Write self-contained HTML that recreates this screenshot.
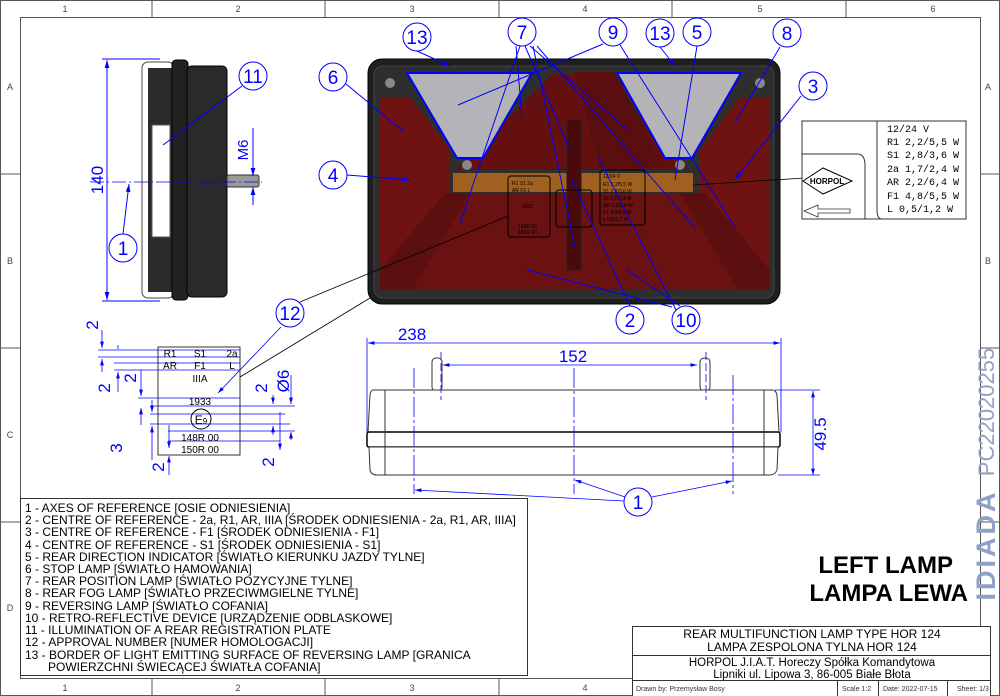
<!DOCTYPE html>
<html><head><meta charset="utf-8"><style>
html,body{margin:0;padding:0;background:#fff}
svg{display:block;font-family:"Liberation Sans",sans-serif}
</style></head><body>
<svg width="1000" height="696" viewBox="0 0 1000 696" xmlns="http://www.w3.org/2000/svg">
<defs>
<marker id="a" viewBox="0 0 10 10" refX="10" refY="5" markerWidth="8" markerHeight="8" orient="auto-start-reverse"><path d="M0,2 L10,5 L0,8z" fill="#00f"/></marker>
</defs>
<rect x="0.5" y="0.5" width="999" height="695" fill="none" stroke="#555"/>
<rect x="20.5" y="17.5" width="960" height="661" fill="none" stroke="#555"/>
<g stroke="#555" stroke-width="1">
<line x1="152" y1="0" x2="152" y2="17"/><line x1="325" y1="0" x2="325" y2="17"/><line x1="499" y1="0" x2="499" y2="17"/><line x1="672" y1="0" x2="672" y2="17"/><line x1="846" y1="0" x2="846" y2="17"/>
<line x1="152" y1="679" x2="152" y2="696"/><line x1="325" y1="679" x2="325" y2="696"/><line x1="499" y1="679" x2="499" y2="696"/>
<line x1="0" y1="174" x2="20" y2="174"/><line x1="0" y1="348" x2="20" y2="348"/><line x1="0" y1="522" x2="20" y2="522"/>
<line x1="981" y1="174" x2="1000" y2="174"/><line x1="981" y1="348" x2="1000" y2="348"/><line x1="981" y1="522" x2="1000" y2="522"/>
</g>
<g font-size="9" fill="#444" text-anchor="middle">
<text x="65" y="12">1</text><text x="238" y="12">2</text><text x="412" y="12">3</text><text x="585" y="12">4</text><text x="760" y="12">5</text><text x="933" y="12">6</text>
<text x="65" y="691">1</text><text x="238" y="691">2</text><text x="412" y="691">3</text><text x="585" y="691">4</text>
<text x="10" y="90">A</text><text x="10" y="264">B</text><text x="10" y="438">C</text><text x="10" y="611">D</text>
<text x="988" y="90">A</text><text x="988" y="264">B</text>
</g>

<!-- side view -->
<rect x="142" y="62" width="32" height="236" rx="6" fill="#fff" stroke="#444"/>
<rect x="148" y="68" width="26" height="224" fill="#2b2b2b"/>
<rect x="152" y="125" width="18" height="112" fill="#fff" stroke="#555"/>
<rect x="172" y="60" width="16" height="240" rx="4" fill="#222" stroke="#000"/>
<rect x="187" y="66" width="40" height="231" rx="5" fill="#2a2a2a" stroke="#000"/>
<rect x="227" y="175" width="32" height="12" rx="2" fill="#999" stroke="#333"/>
<line x1="90" y1="182" x2="262" y2="182" stroke="#00f" stroke-dasharray="14,3,2,3" stroke-width="0.8"/>
<g stroke="#00f" stroke-width="1" fill="none">
<line x1="107" y1="60" x2="107" y2="300" marker-start="url(#a)" marker-end="url(#a)"/>
<line x1="102" y1="59" x2="160" y2="59"/><line x1="102" y1="301" x2="160" y2="301"/>
<line x1="253" y1="128" x2="253" y2="176" marker-end="url(#a)"/><line x1="253" y1="205" x2="253" y2="187" marker-end="url(#a)"/>
<line x1="123" y1="234" x2="129" y2="184" marker-end="url(#a)"/>
<line x1="242" y1="86" x2="163" y2="145"/>
</g>
<text transform="translate(103,180) rotate(-90)" font-size="17" fill="#00f" text-anchor="middle">140</text>
<text transform="translate(248,150) rotate(-90)" font-size="15" fill="#00f" text-anchor="middle">M6</text>

<!-- main lamp -->
<rect x="368" y="59" width="412" height="245" rx="14" fill="#1f1f1f" stroke="#000"/>
<rect x="374" y="66" width="400" height="232" rx="9" fill="#2e2e2e" stroke="#444"/>
<polygon points="380,97 410,97 450,150 450,230 410,266 380,266" fill="#6e1212"/>
<polygon points="770,97 740,97 700,150 700,230 740,266 770,266" fill="#6e1212"/>
<polygon points="553,74 600,74 690,170 455,170" fill="#641010"/>
<polygon points="575,72 615,72 665,168 600,168" fill="#5a0e0e"/>
<polygon points="455,193 695,193 760,290 390,290" fill="#6a1111"/>
<polygon points="380,270 445,193 470,193 412,290 380,290" fill="#5c0f0f"/>
<polygon points="770,270 705,193 680,193 738,290 770,290" fill="#5c0f0f"/>
<polygon points="407,73 532,73 483,158 457,158" fill="#b4b4b8" stroke="#00f" stroke-width="2"/>
<polygon points="617,73 741,73 692,158 665,158" fill="#b4b4b8" stroke="#00f" stroke-width="2"/>
<circle cx="390" cy="83" r="5" fill="#888"/><circle cx="760" cy="83" r="5" fill="#888"/>
<circle cx="467" cy="165" r="5" fill="#888"/><circle cx="680" cy="165" r="5" fill="#888"/>
<rect x="453" y="173" width="240" height="19" fill="#a0601f"/>
<rect x="567" y="120" width="14" height="150" fill="#4a0a0a" stroke="#222"/>
<rect x="508" y="176" width="42" height="61" rx="3" fill="none" stroke="#000"/>
<rect x="556" y="190" width="36" height="37" rx="3" fill="none" stroke="#000"/>
<rect x="600" y="170" width="45" height="55" rx="3" fill="none" stroke="#000"/>
<g font-size="5" fill="#000"><text x="512" y="185">R1 S1 2a</text><text x="512" y="192">AR F1 L</text><text x="522" y="208">1933</text><text x="518" y="228">148R 00</text><text x="518" y="234">150R 00</text>
<text x="603" y="178">12/24 V</text><text x="603" y="186">R1 2,2/5,5 W</text><text x="603" y="193">S1 2,8/3,6 W</text><text x="603" y="200">2a 1,7/2,4 W</text><text x="603" y="207">AR 2,2/6,4 W</text><text x="603" y="214">F1 4,8/5,5 W</text><text x="603" y="221">L 0,5/1,2 W</text></g>
<g stroke="#00f" stroke-width="1" fill="none">
<line x1="417" y1="51" x2="450" y2="66" marker-end="url(#a)"/>
<line x1="660" y1="47" x2="675" y2="66" marker-end="url(#a)"/>
<line x1="346" y1="84" x2="403" y2="131"/>
<line x1="347" y1="175" x2="410" y2="180" marker-end="url(#a)"/>
<line x1="801" y1="96" x2="735" y2="180" marker-end="url(#a)"/>
<line x1="780" y1="47" x2="735" y2="123"/>
<line x1="697" y1="46" x2="675" y2="180"/>
<line x1="603" y1="44" x2="458" y2="105"/>
<line x1="620" y1="45" x2="735" y2="227"/>
<line x1="516" y1="46" x2="522" y2="118"/><line x1="520" y1="46" x2="460" y2="223"/>
<line x1="525" y1="46" x2="570" y2="150"/><line x1="530" y1="46" x2="628" y2="130"/><line x1="533" y1="46" x2="575" y2="247"/>
<line x1="537" y1="46" x2="695" y2="228"/>
<line x1="630" y1="306" x2="572" y2="180"/>
<line x1="676" y1="310" x2="598" y2="157"/>
<line x1="672" y1="307" x2="527" y2="270"/><line x1="680" y1="306" x2="627" y2="270"/>
</g>
<line x1="300" y1="302" x2="508" y2="216" stroke="#000" stroke-width="0.8"/>
<line x1="693" y1="185" x2="805" y2="178" stroke="#000" stroke-width="0.8"/>

<!-- label box -->
<rect x="802" y="121" width="164" height="98" fill="#fff" stroke="#333"/>
<path d="M877,121 V210 Q877,219 882,219" fill="none" stroke="#333"/>
<path d="M802,154 H857 Q865,154 865,165 V219" fill="none" stroke="#333"/>
<polygon points="803,181 823,168 852,181 823,194" fill="#fff" stroke="#000"/>
<text x="827" y="184" font-size="8" font-weight="bold" text-anchor="middle" fill="#000">HORPOL</text>
<path d="M804,211 L818,205 V209 H850 V213 H818 V217z" fill="#fff" stroke="#333" stroke-width="0.8"/>
<g font-size="10" fill="#000" font-family="Liberation Mono,monospace"><text x="887" y="132">12/24 V</text><text x="887" y="145">R1 2,2/5,5 W</text><text x="887" y="158">S1 2,8/3,6 W</text><text x="887" y="172">2a 1,7/2,4 W</text><text x="887" y="185">AR 2,2/6,4 W</text><text x="887" y="199">F1 4,8/5,5 W</text><text x="887" y="212">L  0,5/1,2 W</text></g>

<!-- marking plate -->
<rect x="158" y="347" width="82" height="108" fill="#fff" stroke="#333"/>
<g stroke="#00f" stroke-width="0.8" fill="none">
<line x1="98" y1="350" x2="240" y2="350"/><line x1="98" y1="357" x2="240" y2="357"/><line x1="114" y1="363" x2="240" y2="363"/><line x1="114" y1="370" x2="240" y2="370"/>
<line x1="138" y1="398" x2="240" y2="398"/><line x1="150" y1="406" x2="295" y2="406"/><line x1="150" y1="414" x2="285" y2="414"/><line x1="150" y1="424" x2="290" y2="424"/><line x1="168" y1="431" x2="295" y2="431"/><line x1="168" y1="441" x2="280" y2="441"/>
<line x1="102" y1="330" x2="102" y2="348" marker-end="url(#a)"/><line x1="102" y1="372" x2="102" y2="359" marker-end="url(#a)"/>
<line x1="118" y1="345" x2="118" y2="349" /><line x1="118" y1="392" x2="118" y2="372" marker-end="url(#a)"/>
<line x1="141" y1="370" x2="141" y2="396" marker-end="url(#a)"/><line x1="141" y1="425" x2="141" y2="408" marker-end="url(#a)"/>
<line x1="152" y1="400" x2="152" y2="412" marker-end="url(#a)"/><line x1="152" y1="460" x2="152" y2="426" marker-end="url(#a)"/>
<line x1="169" y1="425" x2="169" y2="448" marker-end="url(#a)"/><line x1="169" y1="475" x2="169" y2="456" marker-end="url(#a)"/>
<line x1="273" y1="395" x2="273" y2="404" marker-end="url(#a)"/><line x1="273" y1="435" x2="273" y2="426" marker-end="url(#a)"/>
<line x1="280" y1="412" x2="280" y2="450" marker-end="url(#a)"/>
<line x1="291" y1="375" x2="291" y2="404" marker-end="url(#a)"/><line x1="291" y1="440" x2="291" y2="432" marker-end="url(#a)"/>
<line x1="281" y1="327" x2="218" y2="393" marker-end="url(#a)"/>
</g>
<line x1="240" y1="377" x2="370" y2="298" stroke="#000" stroke-width="0.8"/>
<g font-size="10" fill="#000" text-anchor="middle"><text x="170" y="357">R1</text><text x="200" y="357">S1</text><text x="232" y="357">2a</text><text x="170" y="369">AR</text><text x="200" y="369">F1</text><text x="232" y="369">L</text><text x="200" y="382">IIIA</text><text x="200" y="405">1933</text><text x="200" y="441">148R  00</text><text x="200" y="453">150R  00</text></g>
<circle cx="201" cy="419" r="10" fill="none" stroke="#000"/><text x="201" y="424" font-size="12" text-anchor="middle">E<tspan font-size="8">9</tspan></text>
<g font-size="17" fill="#00f" text-anchor="middle">
<text transform="translate(98,325) rotate(-90)">2</text><text transform="translate(110,388) rotate(-90)">2</text><text transform="translate(136,378) rotate(-90)">2</text><text transform="translate(122,448) rotate(-90)">3</text><text transform="translate(164,467) rotate(-90)">2</text><text transform="translate(267,388) rotate(-90)">2</text><text transform="translate(274,462) rotate(-90)">2</text><text transform="translate(289,381) rotate(-90)">Ø6</text>
</g>

<!-- bottom view -->
<rect x="432" y="358" width="10" height="33" rx="4" fill="#fff" stroke="#333"/>
<rect x="700" y="358" width="10" height="33" rx="4" fill="#fff" stroke="#333"/>
<path d="M373,390 H772 Q776,390 777,395 L779,432 H368 L370,395 Q371,390 373,390z" fill="#fff" stroke="#333"/>
<rect x="367" y="432" width="413" height="15" rx="2" fill="#fff" stroke="#000" stroke-width="1.5"/>
<path d="M369,447 H778 L777,470 Q775,475 770,475 H377 Q371,475 370,470z" fill="#fff" stroke="#333"/>
<line x1="385" y1="390" x2="385" y2="475" stroke="#333"/><line x1="764" y1="390" x2="764" y2="475" stroke="#333"/>
<g stroke="#00f" stroke-width="0.8" fill="none">
<line x1="368" y1="343" x2="780" y2="343" marker-start="url(#a)" marker-end="url(#a)"/>
<line x1="367" y1="338" x2="367" y2="432"/><line x1="781" y1="338" x2="781" y2="432"/>
<line x1="443" y1="365" x2="697" y2="365" marker-start="url(#a)" marker-end="url(#a)"/>
<line x1="813" y1="391" x2="813" y2="475" marker-start="url(#a)" marker-end="url(#a)"/>
<line x1="775" y1="390" x2="820" y2="390"/><line x1="778" y1="475" x2="820" y2="475"/>
<line x1="414" y1="368" x2="414" y2="494" stroke-dasharray="20,3,3,3"/><line x1="574" y1="368" x2="574" y2="494" stroke-dasharray="20,3,3,3"/><line x1="733" y1="375" x2="733" y2="494" stroke-dasharray="20,3,3,3"/><line x1="441" y1="352" x2="441" y2="400" stroke-dasharray="8,3"/><line x1="706" y1="352" x2="706" y2="400" stroke-dasharray="8,3"/>
<line x1="624" y1="501" x2="415" y2="490" marker-end="url(#a)"/><line x1="625" y1="497" x2="575" y2="480" marker-end="url(#a)"/><line x1="652" y1="497" x2="732" y2="481" marker-end="url(#a)"/>
</g>
<g font-size="17" fill="#00f" text-anchor="middle"><text x="412" y="340">238</text><text x="573" y="362">152</text><text transform="translate(826,434) rotate(-90)">49.5</text></g>

<!-- balloons -->
<g fill="#fff" stroke="#00f" stroke-width="1">
<circle cx="417" cy="37" r="14"/><circle cx="333" cy="77" r="14"/><circle cx="333" cy="175" r="14"/><circle cx="253" cy="76" r="14"/><circle cx="123" cy="248" r="14"/><circle cx="290" cy="313" r="14"/><circle cx="522" cy="32" r="14"/><circle cx="613" cy="32" r="14"/><circle cx="660" cy="33" r="14"/><circle cx="697" cy="32" r="14"/><circle cx="787" cy="33" r="14"/><circle cx="813" cy="86" r="14"/><circle cx="630" cy="320" r="14"/><circle cx="686" cy="320" r="14"/><circle cx="638" cy="502" r="14"/>
</g>
<g font-size="19" fill="#00f" text-anchor="middle">
<text x="417" y="44">13</text><text x="333" y="84">6</text><text x="333" y="182">4</text><text x="253" y="83">11</text><text x="123" y="255">1</text><text x="290" y="320">12</text><text x="522" y="39">7</text><text x="613" y="39">9</text><text x="660" y="40">13</text><text x="697" y="39">5</text><text x="787" y="40">8</text><text x="813" y="93">3</text><text x="630" y="327">2</text><text x="686" y="327">10</text><text x="638" y="509">1</text>
</g>

<!-- legend -->
<rect x="20.5" y="498.5" width="507" height="177" fill="#fff" stroke="#333"/>
<g font-size="12" fill="#000">
<text x="25" y="512">1 - AXES OF REFERENCE [OSIE ODNIESIENIA]</text>
<text x="25" y="524">2 - CENTRE OF REFERENCE - 2a, R1, AR, IIIA [ŚRODEK ODNIESIENIA - 2a, R1, AR, IIIA]</text>
<text x="25" y="536">3 - CENTRE OF REFERENCE - F1 [ŚRODEK ODNIESIENIA - F1]</text>
<text x="25" y="549">4 - CENTRE OF REFERENCE - S1 [ŚRODEK ODNIESIENIA - S1]</text>
<text x="25" y="561">5 - REAR DIRECTION INDICATOR [ŚWIATŁO KIERUNKU JAZDY TYLNE]</text>
<text x="25" y="573">6 - STOP LAMP [ŚWIATŁO HAMOWANIA]</text>
<text x="25" y="585">7 - REAR POSITION LAMP [ŚWIATŁO POZYCYJNE TYLNE]</text>
<text x="25" y="597">8 - REAR FOG LAMP [ŚWIATŁO PRZECIWMGIELNE TYLNE]</text>
<text x="25" y="610">9 - REVERSING LAMP [ŚWIATŁO COFANIA]</text>
<text x="25" y="622">10 - RETRO-REFLECTIVE DEVICE [URZĄDZENIE ODBLASKOWE]</text>
<text x="25" y="634">11 - ILLUMINATION OF A REAR REGISTRATION PLATE</text>
<text x="25" y="646">12 - APPROVAL NUMBER [NUMER HOMOLOGACJI]</text>
<text x="25" y="659">13 - BORDER OF LIGHT EMITTING SURFACE OF REVERSING LAMP [GRANICA</text>
<text x="48" y="671">POWIERZCHNI ŚWIECĄCEJ ŚWIATŁA COFANIA]</text>
</g>

<g font-size="24" font-weight="bold" fill="#000" text-anchor="end"><text x="953" y="573">LEFT LAMP</text><text x="968" y="601">LAMPA LEWA</text></g>
<text transform="translate(994,412) rotate(-90)" font-size="22" fill="#8ea2c8" text-anchor="middle">PC22020255</text>
<text transform="translate(995,545) rotate(-90)" font-size="27" font-weight="bold" fill="#8ea2c8" text-anchor="middle" letter-spacing="3">IDIADA</text>

<!-- title block -->
<rect x="632.5" y="626.5" width="358" height="70" fill="#fff" stroke="#333"/>
<line x1="632" y1="655.5" x2="990" y2="655.5" stroke="#333"/>
<line x1="632" y1="680.5" x2="990" y2="680.5" stroke="#333"/>
<line x1="837.5" y1="680" x2="837.5" y2="696" stroke="#333"/><line x1="878.5" y1="680" x2="878.5" y2="696" stroke="#333"/><line x1="947.5" y1="680" x2="947.5" y2="696" stroke="#333"/>
<g fill="#000" text-anchor="middle"><text x="812" y="638" font-size="12">REAR MULTIFUNCTION LAMP TYPE HOR 124</text><text x="812" y="651" font-size="12">LAMPA ZESPOLONA TYLNA HOR 124</text>
<text x="812" y="666" font-size="11.5">HORPOL J.I.A.T. Horeczy   Spółka Komandytowa</text><text x="812" y="678" font-size="11.5">Lipniki ul. Lipowa 3, 86-005 Białe Błota</text></g>
<g font-size="7" fill="#333"><text x="636" y="691">Drawn by:  Przemysław Bosy</text><text x="842" y="691">Scale  1:2</text><text x="883" y="691">Date: 2022-07-15</text><text x="957" y="691">Sheet: 1/3</text></g>
</svg>
</body></html>
